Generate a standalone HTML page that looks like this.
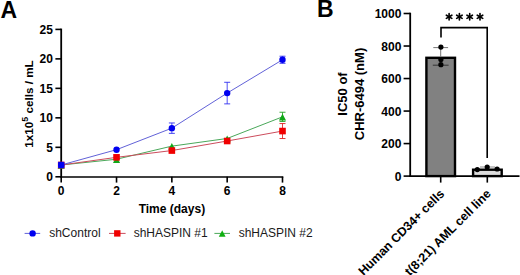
<!DOCTYPE html>
<html><head><meta charset="utf-8"><style>
html,body{margin:0;padding:0;background:#fff;}
svg{display:block;}
text{font-family:"Liberation Sans",sans-serif;fill:#000;}
.b{font-weight:bold;}
</style></head><body>
<svg width="520" height="275" viewBox="0 0 520 275">
<text x="0.6" y="17.5" class="b" font-size="23">A</text>
<text x="316.9" y="17.2" class="b" font-size="23">B</text>
<line x1="61.2" y1="28.599999999999998" x2="61.2" y2="177.60000000000002" stroke="#000" stroke-width="1.8"/>
<line x1="60.400000000000006" y1="177.0" x2="283.3" y2="177.0" stroke="#000" stroke-width="1.5"/>
<line x1="55.4" y1="176.80" x2="61.2" y2="176.80" stroke="#000" stroke-width="1.6"/>
<text x="52.9" y="181.10" class="b" font-size="12" text-anchor="end">0</text>
<line x1="55.4" y1="147.32" x2="61.2" y2="147.32" stroke="#000" stroke-width="1.6"/>
<text x="52.9" y="151.62" class="b" font-size="12" text-anchor="end">5</text>
<line x1="55.4" y1="117.84" x2="61.2" y2="117.84" stroke="#000" stroke-width="1.6"/>
<text x="52.9" y="122.14" class="b" font-size="12" text-anchor="end">10</text>
<line x1="55.4" y1="88.36" x2="61.2" y2="88.36" stroke="#000" stroke-width="1.6"/>
<text x="52.9" y="92.66" class="b" font-size="12" text-anchor="end">15</text>
<line x1="55.4" y1="58.88" x2="61.2" y2="58.88" stroke="#000" stroke-width="1.6"/>
<text x="52.9" y="63.18" class="b" font-size="12" text-anchor="end">20</text>
<line x1="55.4" y1="29.40" x2="61.2" y2="29.40" stroke="#000" stroke-width="1.6"/>
<text x="52.9" y="33.70" class="b" font-size="12" text-anchor="end">25</text>
<line x1="61.20" y1="176.8" x2="61.20" y2="182.6" stroke="#000" stroke-width="1.6"/>
<text x="61.20" y="195.3" class="b" font-size="12" text-anchor="middle">0</text>
<line x1="116.53" y1="176.8" x2="116.53" y2="182.6" stroke="#000" stroke-width="1.6"/>
<text x="116.53" y="195.3" class="b" font-size="12" text-anchor="middle">2</text>
<line x1="171.85" y1="176.8" x2="171.85" y2="182.6" stroke="#000" stroke-width="1.6"/>
<text x="171.85" y="195.3" class="b" font-size="12" text-anchor="middle">4</text>
<line x1="227.18" y1="176.8" x2="227.18" y2="182.6" stroke="#000" stroke-width="1.6"/>
<text x="227.18" y="195.3" class="b" font-size="12" text-anchor="middle">6</text>
<line x1="282.50" y1="176.8" x2="282.50" y2="182.6" stroke="#000" stroke-width="1.6"/>
<text x="282.50" y="195.3" class="b" font-size="12" text-anchor="middle">8</text>
<text x="171.9" y="212.6" class="b" font-size="12" text-anchor="middle">Time (days)</text>
<text transform="translate(33.2,104) rotate(-90)" class="b" font-size="11.7" text-anchor="middle">1x10<tspan font-size="8.8" dy="-5.4">5</tspan><tspan dy="5.4"> cells / mL</tspan></text>
<polyline points="61.20,165.01 116.53,159.23 171.85,146.14 227.18,138.48 282.50,116.84" fill="none" stroke="#4aa85a" stroke-width="1.0"/>
<polyline points="61.20,165.01 116.53,157.34 171.85,150.56 227.18,141.01 282.50,131.05" fill="none" stroke="#cc4c5c" stroke-width="1.0"/>
<polyline points="61.20,165.01 116.53,149.68 171.85,128.16 227.18,93.08 282.50,59.76" fill="none" stroke="#6262d8" stroke-width="1.0"/>
<line x1="282.50" y1="112.24" x2="282.50" y2="121.44" stroke="#20a020" stroke-width="0.85"/>
<line x1="279.50" y1="112.24" x2="285.50" y2="112.24" stroke="#20a020" stroke-width="0.9"/>
<line x1="279.50" y1="121.44" x2="285.50" y2="121.44" stroke="#20a020" stroke-width="0.9"/>
<line x1="282.50" y1="123.56" x2="282.50" y2="138.53" stroke="#e02020" stroke-width="0.85"/>
<line x1="279.50" y1="123.56" x2="285.50" y2="123.56" stroke="#e02020" stroke-width="0.9"/>
<line x1="279.50" y1="138.53" x2="285.50" y2="138.53" stroke="#e02020" stroke-width="0.9"/>
<line x1="171.85" y1="122.97" x2="171.85" y2="133.35" stroke="#3030f0" stroke-width="0.85"/>
<line x1="168.85" y1="122.97" x2="174.85" y2="122.97" stroke="#3030f0" stroke-width="0.9"/>
<line x1="168.85" y1="133.35" x2="174.85" y2="133.35" stroke="#3030f0" stroke-width="0.9"/>
<line x1="227.18" y1="82.29" x2="227.18" y2="103.87" stroke="#3030f0" stroke-width="0.85"/>
<line x1="224.18" y1="82.29" x2="230.18" y2="82.29" stroke="#3030f0" stroke-width="0.9"/>
<line x1="224.18" y1="103.87" x2="230.18" y2="103.87" stroke="#3030f0" stroke-width="0.9"/>
<line x1="282.50" y1="56.23" x2="282.50" y2="63.30" stroke="#3030f0" stroke-width="0.85"/>
<line x1="279.50" y1="56.23" x2="285.50" y2="56.23" stroke="#3030f0" stroke-width="0.9"/>
<line x1="279.50" y1="63.30" x2="285.50" y2="63.30" stroke="#3030f0" stroke-width="0.9"/>
<polygon points="57.65,168.68 64.75,168.68 61.20,161.94" fill="#10a818"/>
<polygon points="112.98,162.90 120.08,162.90 116.53,156.16" fill="#10a818"/>
<polygon points="168.30,149.81 175.40,149.81 171.85,143.07" fill="#10a818"/>
<polygon points="223.62,142.15 230.73,142.15 227.18,135.40" fill="#10a818"/>
<polygon points="278.95,120.51 286.05,120.51 282.50,113.77" fill="#10a818"/>
<rect x="57.90" y="161.71" width="6.6" height="6.6" fill="#f00000"/>
<rect x="113.23" y="154.04" width="6.6" height="6.6" fill="#f00000"/>
<rect x="168.55" y="147.26" width="6.6" height="6.6" fill="#f00000"/>
<rect x="223.88" y="137.71" width="6.6" height="6.6" fill="#f00000"/>
<rect x="279.20" y="127.75" width="6.6" height="6.6" fill="#f00000"/>
<rect x="58.00" y="161.81" width="6.4" height="6.4" fill="#2a08e0"/>
<circle cx="61.20" cy="165.01" r="3.2" fill="#0000f0"/>
<circle cx="116.53" cy="149.68" r="3.2" fill="#0000f0"/>
<circle cx="171.85" cy="128.16" r="3.2" fill="#0000f0"/>
<circle cx="227.18" cy="93.08" r="3.2" fill="#0000f0"/>
<circle cx="282.50" cy="59.76" r="3.2" fill="#0000f0"/>
<line x1="24.6" y1="233.4" x2="40.2" y2="233.4" stroke="#6262d8" stroke-width="1"/>
<circle cx="32.60" cy="233.40" r="3.2" fill="#0000f0"/>
<line x1="109" y1="233.4" x2="125.6" y2="233.4" stroke="#cc4c5c" stroke-width="1"/>
<rect x="114.10" y="230.20" width="6.4" height="6.4" fill="#f00000"/>
<line x1="214.4" y1="233.4" x2="230" y2="233.4" stroke="#4aa85a" stroke-width="1"/>
<polygon points="218.80,236.63 225.60,236.63 222.20,230.17" fill="#10b010"/>
<text x="49.2" y="237.2" font-size="12" style="fill:#1a1a1a">shControl</text>
<text x="133.7" y="237.2" font-size="12" style="fill:#1a1a1a">shHASPIN #1</text>
<text x="238.7" y="237.2" font-size="12" style="fill:#1a1a1a">shHASPIN #2</text>
<line x1="410.2" y1="12.7" x2="410.2" y2="176.9" stroke="#000" stroke-width="1.8"/>
<line x1="409.4" y1="176.1" x2="519.5" y2="176.1" stroke="#000" stroke-width="1.8"/>
<line x1="403.6" y1="176.10" x2="410.2" y2="176.10" stroke="#000" stroke-width="1.6"/>
<text x="401.4" y="180.70" class="b" font-size="12" text-anchor="end">0</text>
<line x1="403.6" y1="143.58" x2="410.2" y2="143.58" stroke="#000" stroke-width="1.6"/>
<text x="401.4" y="148.18" class="b" font-size="12" text-anchor="end">200</text>
<line x1="403.6" y1="111.06" x2="410.2" y2="111.06" stroke="#000" stroke-width="1.6"/>
<text x="401.4" y="115.66" class="b" font-size="12" text-anchor="end">400</text>
<line x1="403.6" y1="78.54" x2="410.2" y2="78.54" stroke="#000" stroke-width="1.6"/>
<text x="401.4" y="83.14" class="b" font-size="12" text-anchor="end">600</text>
<line x1="403.6" y1="46.02" x2="410.2" y2="46.02" stroke="#000" stroke-width="1.6"/>
<text x="401.4" y="50.62" class="b" font-size="12" text-anchor="end">800</text>
<line x1="403.6" y1="13.50" x2="410.2" y2="13.50" stroke="#000" stroke-width="1.6"/>
<text x="401.4" y="18.10" class="b" font-size="12" text-anchor="end">1000</text>
<line x1="440.7" y1="176.1" x2="440.7" y2="182.6" stroke="#000" stroke-width="1.6"/>
<line x1="487.3" y1="176.1" x2="487.3" y2="182.6" stroke="#000" stroke-width="1.6"/>
<rect x="426.40" y="57.8" width="28.6" height="118.30" fill="#818181" stroke="#000" stroke-width="2.4"/>
<rect x="473.10" y="169.7" width="28.6" height="6.40" fill="#dcdcdc" stroke="#000" stroke-width="2.4"/>
<line x1="440.7" y1="47.4" x2="440.7" y2="65.2" stroke="#777" stroke-width="1"/>
<line x1="433.3" y1="47.6" x2="448.1" y2="47.6" stroke="#777" stroke-width="1"/>
<line x1="432.8" y1="65.2" x2="448.6" y2="65.2" stroke="#333" stroke-width="1"/>
<line x1="480" y1="167" x2="495" y2="167" stroke="#888" stroke-width="1"/>
<circle cx="440.90" cy="47.10" r="2.6" fill="#000"/>
<circle cx="440.90" cy="64.70" r="2.6" fill="#000"/>
<circle cx="440.90" cy="59.50" r="2.6" fill="#000"/>
<circle cx="477.30" cy="169.60" r="2.6" fill="#000"/>
<circle cx="487.20" cy="167.10" r="2.6" fill="#000"/>
<circle cx="497.10" cy="169.00" r="2.6" fill="#000"/>
<polyline points="441,37.6 441,27.6 487.2,27.6 487.2,158" fill="none" stroke="#000" stroke-width="1.6"/>
<line x1="449.10" y1="13.65" x2="449.10" y2="19.95" stroke="#000" stroke-width="1.65" stroke-linecap="round"/>
<line x1="446.37" y1="15.23" x2="451.83" y2="18.38" stroke="#000" stroke-width="1.65" stroke-linecap="round"/>
<line x1="451.83" y1="15.23" x2="446.37" y2="18.38" stroke="#000" stroke-width="1.65" stroke-linecap="round"/>
<line x1="459.40" y1="13.65" x2="459.40" y2="19.95" stroke="#000" stroke-width="1.65" stroke-linecap="round"/>
<line x1="456.67" y1="15.23" x2="462.13" y2="18.38" stroke="#000" stroke-width="1.65" stroke-linecap="round"/>
<line x1="462.13" y1="15.23" x2="456.67" y2="18.38" stroke="#000" stroke-width="1.65" stroke-linecap="round"/>
<line x1="469.70" y1="13.65" x2="469.70" y2="19.95" stroke="#000" stroke-width="1.65" stroke-linecap="round"/>
<line x1="466.97" y1="15.23" x2="472.43" y2="18.38" stroke="#000" stroke-width="1.65" stroke-linecap="round"/>
<line x1="472.43" y1="15.23" x2="466.97" y2="18.38" stroke="#000" stroke-width="1.65" stroke-linecap="round"/>
<line x1="480.00" y1="13.65" x2="480.00" y2="19.95" stroke="#000" stroke-width="1.65" stroke-linecap="round"/>
<line x1="477.27" y1="15.23" x2="482.73" y2="18.38" stroke="#000" stroke-width="1.65" stroke-linecap="round"/>
<line x1="482.73" y1="15.23" x2="477.27" y2="18.38" stroke="#000" stroke-width="1.65" stroke-linecap="round"/>
<text transform="translate(347.4,94) rotate(-90)" class="b" font-size="13" text-anchor="middle">IC50 of</text>
<text transform="translate(364.4,94) rotate(-90)" class="b" font-size="13" text-anchor="middle">CHR-6494 (nM)</text>
<text transform="translate(445.1,194.5) rotate(-45)" class="b" font-size="12.4" text-anchor="end">Human CD34+ cells</text>
<text transform="translate(491.6,194.5) rotate(-45)" class="b" font-size="12.4" text-anchor="end">t(8;21) AML cell line</text>
</svg>
</body></html>
